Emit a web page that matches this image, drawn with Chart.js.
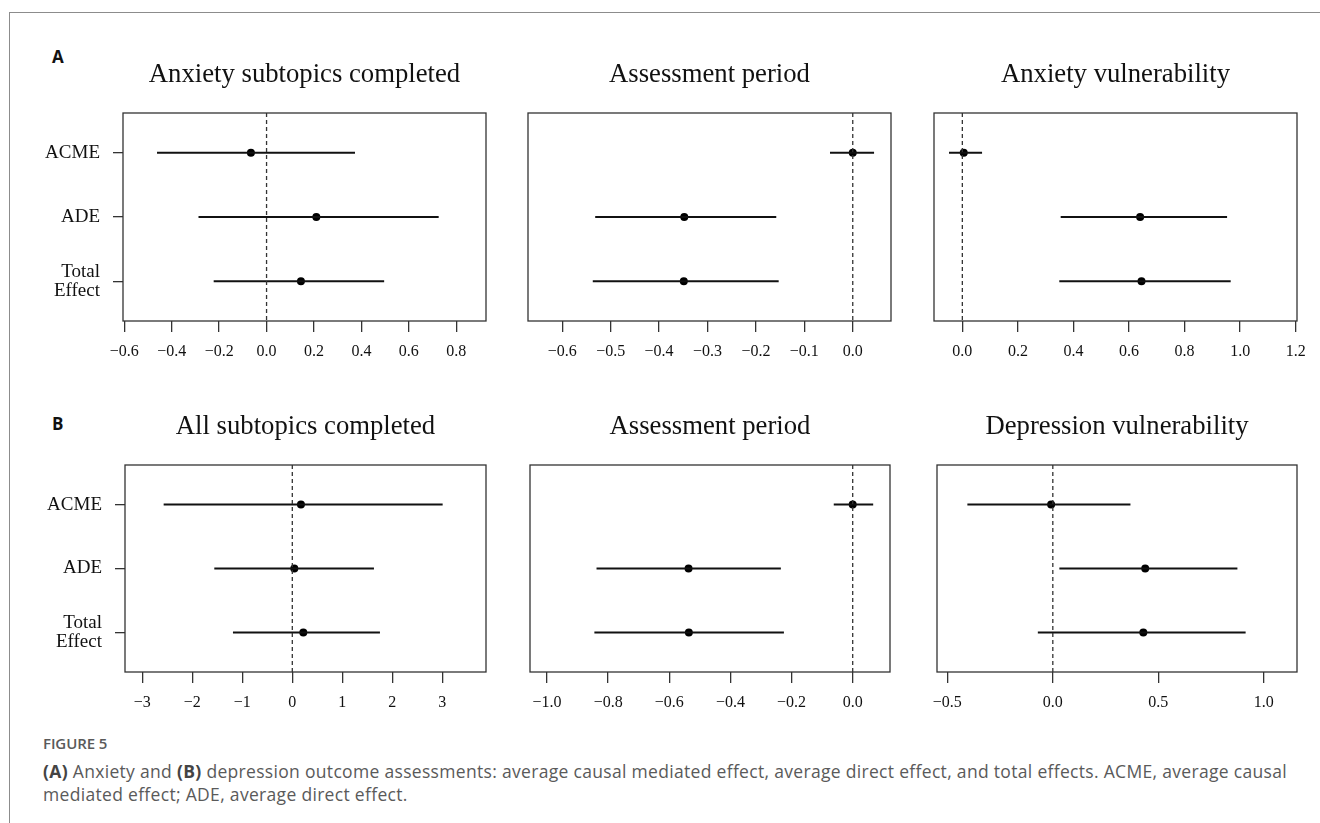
<!DOCTYPE html>
<html>
<head>
<meta charset="utf-8">
<script src="https://cdn.jsdelivr.net/npm/chart.js@4.4.1/dist/chart.umd.min.js"></script>
<style>
  html, body { margin: 0; padding: 0; background: #fff; }
  body { width: 1320px; height: 823px; position: relative; overflow: hidden; }
  #frame { position: absolute; left: 9px; top: 12px; width: 1330px; height: 830px;
           border-left: 1.5px solid #8c8c8c; border-top: 1.5px solid #8c8c8c; }
  .panel { position: absolute; }
  .letter { position: absolute; font-family: "Open Sans", sans-serif; font-weight: 700;
            font-size: 17px; line-height: 17px; color: #111; }
  .cap { position: absolute; left: 43px; font-family: "Open Sans", sans-serif; color: #5a5a5a;
         white-space: nowrap; }
  .cap b { color: #444; font-weight: 700; }
</style>
</head>
<body>
<div id="frame"></div>
<div class="letter" style="left:52px; top:48px;">A</div>
<div class="letter" style="left:52px; top:415px;">B</div>
<div id="p0" class="panel"><canvas id="c0"></canvas></div>
<div id="p1" class="panel"><canvas id="c1"></canvas></div>
<div id="p2" class="panel"><canvas id="c2"></canvas></div>
<div id="p3" class="panel"><canvas id="c3"></canvas></div>
<div id="p4" class="panel"><canvas id="c4"></canvas></div>
<div id="p5" class="panel"><canvas id="c5"></canvas></div>
<div class="cap" style="top:733px; font-size:15px; font-weight:600; line-height:20px; letter-spacing:-0.1px;">FIGURE 5</div>
<div id="cap1" class="cap" style="top:760px; font-size:17.5px; line-height:23px;"><b>(A)</b> Anxiety and <b>(B)</b> depression outcome assessments: average causal mediated effect, average direct effect, and total effects. ACME, average causal</div>
<div id="cap2" class="cap" style="top:783px; font-size:17.5px; line-height:23px;">mediated effect; ADE, average direct effect.</div>
<script>
// ---------- data ----------
const categories = ['ACME', 'ADE', ['Total', 'Effect']];

const titles = ['Anxiety subtopics completed', 'Assessment period', 'Anxiety vulnerability',
                'All subtopics completed', 'Assessment period', 'Depression vulnerability'];

// Panel A1: Anxiety subtopics completed
const a1Est = [-0.066, 0.210, 0.145];
const a1Lo  = [-0.462, -0.287, -0.223];
const a1Hi  = [0.373, 0.726, 0.496];
const a1Ticks = [-0.6, -0.4, -0.2, 0.0, 0.2, 0.4, 0.6, 0.8];
const a1TickLabels = ['\u22120.6', '\u22120.4', '\u22120.2', '0.0', '0.2', '0.4', '0.6', '0.8'];

// Panel A2: Assessment period (anxiety)
const a2Est = [0.000, -0.348, -0.349];
const a2Lo  = [-0.047, -0.532, -0.537];
const a2Hi  = [0.044, -0.158, -0.153];
const a2Ticks = [-0.6, -0.5, -0.4, -0.3, -0.2, -0.1, 0.0];
const a2TickLabels = ['\u22120.6', '\u22120.5', '\u22120.4', '\u22120.3', '\u22120.2', '\u22120.1', '0.0'];

// Panel A3: Anxiety vulnerability
const a3Est = [0.005, 0.640, 0.645];
const a3Lo  = [-0.048, 0.354, 0.349];
const a3Hi  = [0.071, 0.953, 0.966];
const a3Ticks = [0.0, 0.2, 0.4, 0.6, 0.8, 1.0, 1.2];
const a3TickLabels = ['0.0', '0.2', '0.4', '0.6', '0.8', '1.0', '1.2'];

// Panel B1: All subtopics completed
const b1Est = [0.173, 0.040, 0.220];
const b1Lo  = [-2.573, -1.560, -1.187];
const b1Hi  = [3.007, 1.633, 1.753];
const b1Ticks = [-3, -2, -1, 0, 1, 2, 3];
const b1TickLabels = ['\u22123', '\u22122', '\u22121', '0', '1', '2', '3'];

// Panel B2: Assessment period (depression)
const b2Est = [0.000, -0.537, -0.536];
const b2Lo  = [-0.062, -0.838, -0.845];
const b2Hi  = [0.067, -0.235, -0.225];
const b2Ticks = [-1.0, -0.8, -0.6, -0.4, -0.2, 0.0];
const b2TickLabels = ['\u22121.0', '\u22120.8', '\u22120.6', '\u22120.4', '\u22120.2', '0.0'];

// Panel B3: Depression vulnerability
const b3Est = [-0.008, 0.438, 0.429];
const b3Lo  = [-0.405, 0.031, -0.071];
const b3Hi  = [0.368, 0.875, 0.914];
const b3Ticks = [-0.5, 0.0, 0.5, 1.0];
const b3TickLabels = ['\u22120.5', '0.0', '0.5', '1.0'];

// ---------- layout (plot boxes in page px) ----------
const panels = [
  { est: a1Est, lo: a1Lo, hi: a1Hi, ticks: a1Ticks, labels: a1TickLabels, xmin: -0.6055, xmax: 0.9256, box: [123, 113, 486, 321], yAxis: true },
  { est: a2Est, lo: a2Lo, hi: a2Hi, ticks: a2Ticks, labels: a2TickLabels, xmin: -0.6708, xmax: 0.079,  box: [528, 113, 891, 321], yAxis: false },
  { est: a3Est, lo: a3Lo, hi: a3Hi, ticks: a3Ticks, labels: a3TickLabels, xmin: -0.102,  xmax: 1.2047, box: [934, 113, 1297, 321], yAxis: false },
  { est: b1Est, lo: b1Lo, hi: b1Hi, ticks: b1Ticks, labels: b1TickLabels, xmin: -3.346,  xmax: 3.874,  box: [125, 465, 486, 672], yAxis: true },
  { est: b2Est, lo: b2Lo, hi: b2Hi, ticks: b2Ticks, labels: b2TickLabels, xmin: -1.0556, xmax: 0.122,  box: [530, 465, 890, 672], yAxis: false },
  { est: b3Est, lo: b3Lo, hi: b3Hi, ticks: b3Ticks, labels: b3TickLabels, xmin: -0.549,  xmax: 1.1575, box: [937, 465, 1297, 672], yAxis: false },
];

const YMIN = 0.38, YMAX = 3.62;
const PADT = 60, PADB = 45, PADR = 20;
const SERIF = "'Liberation Serif', 'Times New Roman', serif";

const framePlugin = {
  id: 'frame',
  afterDatasetsDraw(chart) {
    const a = chart.chartArea, ctx = chart.ctx;
    ctx.save();
    ctx.strokeStyle = '#333';
    ctx.lineWidth = 1.3;
    ctx.strokeRect(a.left, a.top, a.right - a.left, a.bottom - a.top);
    ctx.restore();
  }
};

panels.forEach((p, k) => {
  const [l, t, r, b] = p.box;
  const padL = p.yAxis ? 120 : 20;
  const w = (r - l) + padL + PADR;
  const h = (b - t) + PADT + PADB;
  const div = document.getElementById('p' + k);
  div.style.left = (l - padL) + 'px';
  div.style.top = (t - PADT) + 'px';
  div.style.width = w + 'px';
  div.style.height = h + 'px';
  const cv = document.getElementById('c' + k);
  cv.width = w; cv.height = h;
  cv.style.width = w + 'px'; cv.style.height = h + 'px';

  const datasets = [];
  datasets.push({
    data: [{ x: 0, y: YMIN }, { x: 0, y: YMAX }],
    showLine: true, borderColor: '#333', borderWidth: 1.3, borderDash: [4, 3],
    pointRadius: 0
  });
  p.est.forEach((e, i) => {
    datasets.push({
      data: [{ x: p.lo[i], y: i + 1 }, { x: p.hi[i], y: i + 1 }],
      showLine: true, borderColor: '#111', borderWidth: 2, pointRadius: 0
    });
  });
  datasets.push({
    data: p.est.map((e, i) => ({ x: e, y: i + 1 })),
    showLine: false, pointRadius: 4, pointBackgroundColor: '#000', pointBorderColor: '#000',
    pointBorderWidth: 0
  });

  new Chart(cv, {
    type: 'scatter',
    data: { datasets },
    plugins: [framePlugin],
    options: {
      responsive: false,
      animation: false,
      events: [],
      layout: { padding: { left: p.yAxis ? 0 : padL, right: PADR, top: 0, bottom: 0 } },
      plugins: {
        legend: { display: false },
        tooltip: { enabled: false },
        title: {
          display: true, text: titles[k], fullSize: false, color: '#111',
          font: { family: SERIF, size: 26.7, weight: 'normal', lineHeight: 1.2 },
          padding: { top: 6, bottom: 21.96 }
        }
      },
      scales: {
        x: {
          type: 'linear', min: p.xmin, max: p.xmax,
          afterBuildTicks(scale) { scale.ticks = p.ticks.map(v => ({ value: v })); },
          afterFit(scale) { scale.height = PADB; scale.paddingLeft = 0; scale.paddingRight = 0; },
          grid: { drawOnChartArea: false, drawTicks: true, tickLength: 11, color: '#333', lineWidth: 1.3 },
          border: { display: false },
          ticks: {
            autoSkip: false, maxRotation: 0, padding: 10, color: '#111',
            font: { family: SERIF, size: 16 },
            callback: (v, i) => p.labels[i]
          }
        },
        y: {
          type: 'linear', min: YMIN, max: YMAX, reverse: true, display: p.yAxis,
          afterBuildTicks(scale) { scale.ticks = [1, 2, 3].map(v => ({ value: v })); },
          afterFit(scale) { scale.width = p.yAxis ? padL : 0; scale.paddingTop = 0; scale.paddingBottom = 0; },
          grid: { drawOnChartArea: false, drawTicks: true, tickLength: 10, color: '#333', lineWidth: 1.3 },
          border: { display: false },
          ticks: {
            autoSkip: false, padding: 13, color: '#111',
            font: { family: SERIF, size: 19, lineHeight: 1.0 },
            callback: (v, i) => categories[i]
          }
        }
      }
    }
  });
});

// fit caption line width to the reference text block width
(function () {
  const c1 = document.getElementById('cap1'), c2 = document.getElementById('cap2');
  const target = 1244;
  const wNow = c1.getBoundingClientRect().width;
  const n = c1.textContent.length;
  const ls = (target - wNow) / n;
  c1.style.letterSpacing = ls + 'px';
  c2.style.letterSpacing = ls + 'px';
})();
</script>
</body>
</html>
